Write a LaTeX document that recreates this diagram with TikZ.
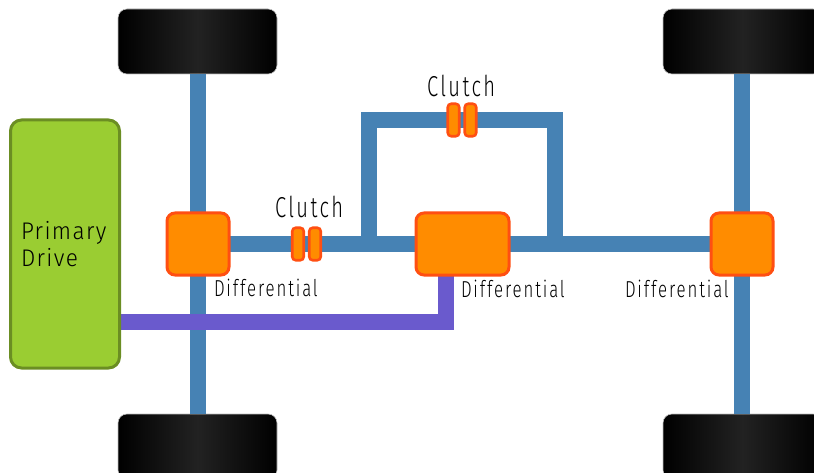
\documentclass[tikz,border=0pt]{standalone}
\usepackage{fontspec}
\usepackage{graphicx}
\setmainfont{Fira Sans Light}
\definecolor{axle}{HTML}{4682B4}
\definecolor{prop}{HTML}{6A5ACD}
\definecolor{orangefill}{HTML}{FF8C00}
\definecolor{orangeline}{HTML}{FF4F12}
\definecolor{greenfill}{HTML}{9ACD32}
\definecolor{greenline}{HTML}{6B8E23}
\definecolor{tyremid}{HTML}{222222}
\tikzset{
  x=1pt,y=-1pt,
  every node/.style={inner sep=0pt,outer sep=0pt},
  tyre/.style={minimum width=159pt,minimum height=65pt,rounded corners=9pt,draw=black!25,line width=.6pt,left color=black,right color=black,middle color=tyremid},
  diffbox/.style={draw=orangeline,fill=orangefill,line width=3pt,rounded corners=8pt,minimum height=62pt},
  plate/.style={draw=orangeline,fill=orangefill,line width=2.6pt,rounded corners=3.5pt,minimum width=11.5pt,minimum height=32.5pt},
  driveunit/.style={draw=greenline,fill=greenfill,line width=3pt,rounded corners=11pt,minimum width=109pt,minimum height=248pt},
  shaft/.style={draw=axle,line width=16pt},
  propshaft/.style={draw=prop,line width=16pt},
  lbl/.style={text=black,anchor=base west},
}
\newcommand{\clutchtxt}{\scalebox{1.12}[1.6]{\fontsize{18}{18}\selectfont\addfontfeature{LetterSpace=12}Clutch}}
\newcommand{\difftxt}{\scalebox{1.02}[1.4]{\fontsize{16.5}{16.5}\selectfont\addfontfeature{LetterSpace=11}Differential}}
\newcommand{\drivetxt}[1]{\scalebox{1.22}[1.3]{\fontsize{18.5}{18.5}\selectfont\addfontfeature{LetterSpace=6}#1}}
\begin{document}
\begin{tikzpicture}
\path[use as bounding box,clip] (0,0) rectangle (814,473);
\coordinate (jl) at (369,244);
\coordinate (jr) at (555,244);
\coordinate (tl) at (369,120);
\coordinate (tr) at (555,120);
\coordinate (pc) at (446,322);
\coordinate (pd) at (120,322);
\path
 node[tyre] (wfl) at (197.5,41.5) {}
 node[tyre] (wrl) at (197.5,446.5) {}
 node[tyre] (wfr) at (742.5,41.5) {}
 node[tyre] (wrr) at (742.5,446.5) {}
 coordinate (d1) at (198,244)
 coordinate (d2) at (462.5,244)
 coordinate (d3) at (742,244);
\draw[shaft] (wfl.south -| d1) -- (wrl.north -| d1);
\draw[shaft] (wfr.south -| d3) -- (wrr.north -| d3);
\draw[shaft] (d1) -- (d3);
\draw[shaft,line join=miter] (jl) -- (tl) -- (tr) -- (jr);
\draw[propshaft,line join=miter] (pd) -- (pc) -- (d2 -| pc);
\node[driveunit] (drive) at (65,244) {};
\node[diffbox,minimum width=62pt] (diffa) at (d1) {};
\node[diffbox,minimum width=93pt] (diffb) at (d2) {};
\node[diffbox,minimum width=62pt] (diffc) at (d3) {};
\node[plate] (c1a) at (298,244) {};
\node[plate] (c1b) at (315,244) {};
\node[plate] (c2a) at (453.5,120) {};
\node[plate] (c2b) at (470.5,120) {};
\node[lbl] (l1) at (275,217.5) {\clutchtxt};
\node[lbl] (l2) at (427,97) {\clutchtxt};
\node[lbl] (l3) at (214,296) {\difftxt};
\node[lbl] (l4) at (461,298) {\difftxt};
\node[lbl] (l5) at (625,298) {\difftxt};
\node[lbl] (l6) at (21,240) {\drivetxt{Primary}};
\node[lbl] (l7) at (21,266.5) {\drivetxt{Drive}};
\end{tikzpicture}
\end{document}
